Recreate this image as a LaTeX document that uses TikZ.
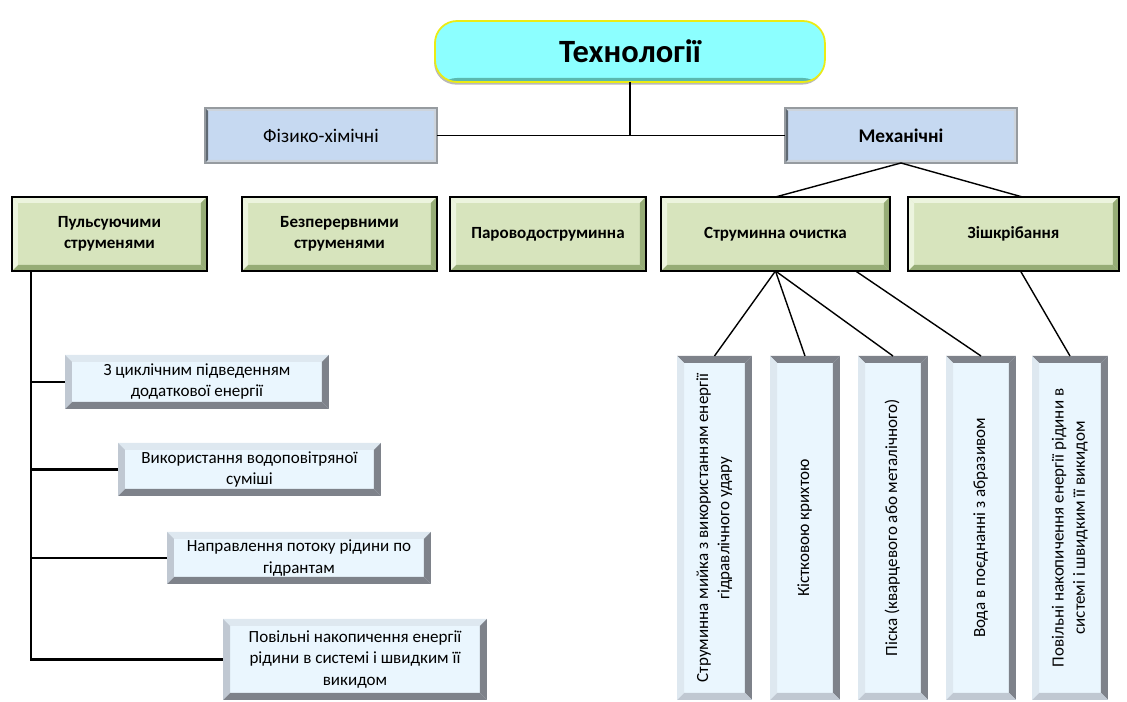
\documentclass[tikz,border=0pt]{standalone}
\usepackage{fontspec}
\setmainfont{Carlito}
\usetikzlibrary{calc,shadows}

\definecolor{titlefill}{RGB}{140,255,255}
\definecolor{titleline}{RGB}{235,235,20}
\definecolor{titlelow}{RGB}{90,185,175}
\definecolor{bluefill}{RGB}{198,217,241}
\definecolor{blueedge}{RGB}{150,155,160}
\definecolor{bluelight}{RGB}{205,212,220}
\definecolor{bluedark}{RGB}{95,105,115}
\definecolor{greenfill}{RGB}{215,228,189}
\definecolor{greenlight}{RGB}{236,244,222}
\definecolor{greendark}{RGB}{150,172,118}
\definecolor{palefill}{RGB}{234,246,254}
\definecolor{palelight}{RGB}{222,232,240}
\definecolor{paleside}{RGB}{192,200,210}
\definecolor{paledark}{RGB}{126,130,138}

\tikzset{
  bev/.code={\def\bevw{#1}}, bev=0.14cm,
  % top, right, bottom, left
  bevel/.style n args={4}{path picture={
      \coordinate (bnw) at (path picture bounding box.north west);
      \coordinate (bne) at (path picture bounding box.north east);
      \coordinate (bse) at (path picture bounding box.south east);
      \coordinate (bsw) at (path picture bounding box.south west);
      \fill[#1] (bnw) -- (bne) -- ([shift={(-\bevw,-\bevw)}]bne) -- ([shift={(\bevw,-\bevw)}]bnw) -- cycle;
      \fill[#2] (bne) -- (bse) -- ([shift={(-\bevw,\bevw)}]bse) -- ([shift={(-\bevw,-\bevw)}]bne) -- cycle;
      \fill[#3] (bse) -- (bsw) -- ([shift={(\bevw,\bevw)}]bsw) -- ([shift={(-\bevw,\bevw)}]bse) -- cycle;
      \fill[#4] (bsw) -- (bnw) -- ([shift={(\bevw,-\bevw)}]bnw) -- ([shift={(\bevw,\bevw)}]bsw) -- cycle;
  }},
  box/.style={anchor=north west, inner sep=0pt, outer sep=0pt, align=center},
  titlebox/.style={box, rounded corners=0.44cm, fill=titlefill, draw=titleline, line width=1pt,
      drop shadow={shadow xshift=-0.5pt, shadow yshift=-1.5pt, opacity=0.55, fill=gray},
      path picture={\fill[titlelow] ([yshift=0.08cm]path picture bounding box.south west) rectangle (path picture bounding box.south east);},
      font=\fontsize{18.5}{20}\selectfont\bfseries},
  bluebox/.style={box, fill=bluefill, draw=blueedge, line width=0.8pt, bev=0.06cm,
      bevel={bluelight}{bluelight}{bluelight}{bluedark}, font=\fontsize{11}{13}\selectfont},
  greenbox/.style={box, fill=greenfill, draw=black, line width=1.6pt, bev=0.12cm,
      bevel={greenlight}{greendark}{greendark}{greenlight}, font=\fontsize{9.7}{12}\selectfont\bfseries},
  palebox/.style={box, fill=palefill, bev=0.14cm,
      bevel={palelight}{paledark}{paledark}{paleside}, font=\fontsize{9.7}{12}\selectfont},
  upbox/.style={box, fill=palefill, bev=0.14cm, minimum height=6.88cm,
      bevel={paledark}{paledark}{paleside}{palelight}, font=\fontsize{9.7}{12}\selectfont},
  conn/.style={line width=0.8pt},
  branch/.style={line width=1.2pt},
}
\newcommand{\uptext}[1]{\rotatebox{90}{\begin{tabular}{@{}c@{}}#1\end{tabular}}}

\begin{document}
\begin{tikzpicture}[x=0.02cm,y=-0.02cm]
    \useasboundingbox (0,0) rectangle (1127,702);

    % top levels
    \node[titlebox, minimum width=7.8cm, minimum height=1.22cm] (tech) at (435,21) {Технології};
    \node[bluebox, minimum width=4.64cm, minimum height=1.1cm] (fiz) at (205,108) {Фізико-хімічні};
    \node[bluebox, minimum width=4.64cm, minimum height=1.1cm, font=\fontsize{11}{13}\selectfont\bfseries] (mech) at (785,108) {Механічні};

    % methods
    \node[greenbox, minimum width=3.9cm, minimum height=1.48cm] (puls) at (12,197) {Пульсуючими\\ струменями};
    \node[greenbox, minimum width=3.9cm, minimum height=1.48cm] (bezp) at (242,197) {Безперервними\\ струменями};
    \node[greenbox, minimum width=3.92cm, minimum height=1.48cm] (parov) at (450,197) {Пароводоструминна};
    \node[greenbox, minimum width=4.58cm, minimum height=1.48cm] (strum) at (661,197) {Струминна очистка};
    \node[greenbox, minimum width=4.22cm, minimum height=1.48cm] (zish) at (908,197) {Зішкрібання};

    % pulsing jets
    \node[palebox, minimum width=5.28cm, minimum height=1.08cm] (l1) at (65,355) {З циклічним підведенням\\ додаткової енергії};
    \node[palebox, minimum width=5.26cm, minimum height=1.06cm] (l2) at (118,443) {Використання водоповітряної\\ суміші};
    \node[palebox, minimum width=5.28cm, minimum height=1.04cm] (l3) at (167,532) {Направлення потоку рідини по\\ гідрантам};
    \node[palebox, minimum width=5.28cm, minimum height=1.62cm] (l4) at (223,619) {Повільні накопичення енергії\\ рідини в системі і швидким її\\ викидом};

    % jet cleaning and scraping
    \node[upbox, minimum width=1.5cm] (v1) at (677,356) {\uptext{Струминна мийка з використанням енергії\\ гідравлічного удару}};
    \node[upbox, minimum width=1.4cm] (v2) at (770,356) {\uptext{Кістковою крихтою}};
    \node[upbox, minimum width=1.4cm] (v3) at (858,356) {\uptext{Піска (кварцевого або металічного)}};
    \node[upbox, minimum width=1.4cm] (v4) at (946,356) {\uptext{Вода в поєднанні з абразивом}};
    \node[upbox, minimum width=1.52cm] (v5) at (1032,356) {\uptext{Повільні накопичення енергії рідини в\\ системі і швидким її викидом}};

    % connectors
    \draw[conn] (tech.south) -- (tech.south |- fiz.east);
    \draw[conn] (fiz.east) -- (mech.west);
    \draw[conn] (mech.south) -- (strum.north);
    \draw[conn] (mech.south) -- ([xshift=0.18cm]zish.north);
    \foreach \v in {v1,v2,v3}
        \draw[conn] (strum.south) -- (\v.north);
    \draw[conn] ($(strum.south)!0.7!(strum.south east)$) -- (v4.north);
    \draw[conn] ([xshift=0.14cm]zish.south) -- (v5.north);

    \coordinate (trunk) at ([xshift=0.38cm]puls.south west);
    \draw[branch] (trunk) |- (l4.west);
    \foreach \b in {l1,l2,l3}
        \draw[branch] (trunk |- \b.west) -- (\b.west);
\end{tikzpicture}
\end{document}
